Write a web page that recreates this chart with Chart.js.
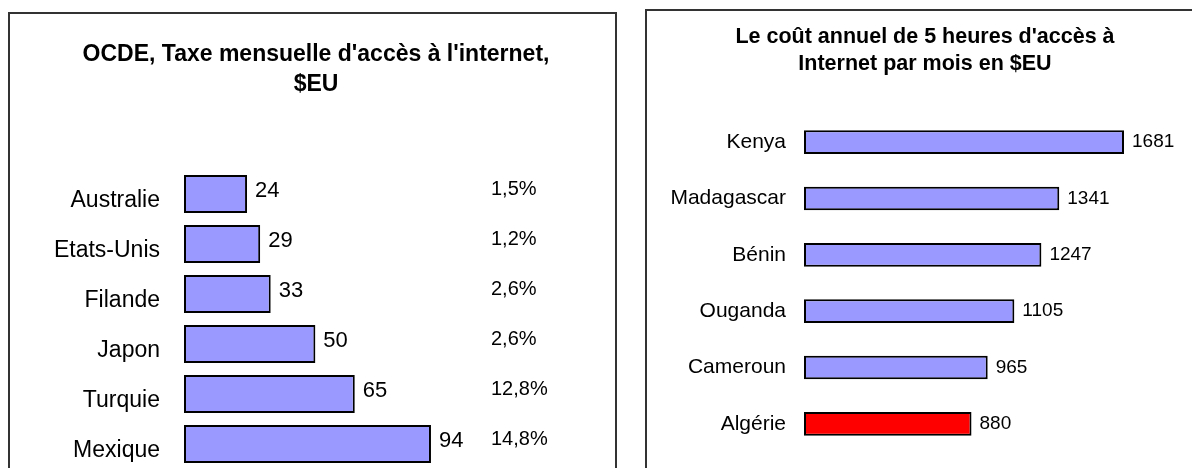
<!DOCTYPE html>
<html>
<head>
<meta charset="utf-8">
<script src="https://cdn.jsdelivr.net/npm/chart.js@4.4.0/dist/chart.umd.min.js"></script>
<style>
	html, body { margin: 0; padding: 0; background: #fff; overflow: hidden; width: 1192px; height: 468px; }
	.panel { position: absolute; border: 2px solid #333; background: #fff; }
	#left { left: 8px; top: 12px; width: 605px; height: 500px; }
	#right { left: 645px; top: 9px; width: 556px; height: 500px; }
	canvas { display: block; }
</style>
</head>
<body>
<div class="panel" id="left"><canvas id="oecdChart" width="605" height="495"></canvas></div>
<div class="panel" id="right"><canvas id="africaChart" width="556" height="490"></canvas></div>
<script>
var oecdCountries = ["Australie", "Etats-Unis", "Filande", "Japon", "Turquie", "Mexique"];
var oecdFees = [24, 29, 33, 50, 65, 94];
var oecdShares = ["1,5%", "1,2%", "2,6%", "2,6%", "12,8%", "14,8%"];

var africaCountries = ["Kenya", "Madagascar", "Bénin", "Ouganda", "Cameroun", "Algérie"];
var africaCosts = [1681, 1341, 1247, 1105, 965, 880];
var highlight = "Algérie";

Chart.defaults.font.family = "'Liberation Sans', Arial, sans-serif";
Chart.defaults.color = "#000";

// writes the value just right of each bar end
var valueLabels = {
	id: "valueLabels",
	afterDatasetsDraw: function(chart, args, opts) {
		var ctx = chart.ctx;
		var meta = chart.getDatasetMeta(0);
		var values = chart.data.datasets[0].data;
		ctx.save();
		ctx.font = opts.size + "px " + Chart.defaults.font.family;
		ctx.fillStyle = "#000";
		ctx.textAlign = "left";
		ctx.textBaseline = "middle";
		for (var i = 0; i < meta.data.length; i++) {
			var bar = meta.data[i];
			ctx.fillText(values[i], bar.x + opts.gap, bar.y + opts.dy);
		}
		ctx.restore();
	}
};

var oecdChart = new Chart(document.getElementById("oecdChart"), {
	type: "bar",
	data: {
		labels: oecdCountries,
		datasets: [{
			data: oecdFees,
			backgroundColor: "#9999ff",
			borderColor: "#000",
			borderWidth: 2,
			borderSkipped: false,
			barPercentage: 0.76,
			categoryPercentage: 1
		}]
	},
	options: {
		indexAxis: "y",
		responsive: false,
		animation: false,
		devicePixelRatio: 1,
		layout: { padding: { top: 0, right: 0, bottom: 40, left: 7 } },
		plugins: {
			legend: { display: false },
			tooltip: { enabled: false },
			title: {
				display: true,
				text: ["OCDE, Taxe mensuelle d'accès à l'internet,", "$EU"],
				font: { size: 23, weight: "bold", lineHeight: 1.304 },
				padding: { top: 26, bottom: 69 }
			},
			valueLabels: { size: 22, gap: 8, dy: -3 }
		},
		scales: {
			x: { display: false, min: 0, max: 110 },
			y: {
				grid: { display: false, drawTicks: false },
				border: { display: false },
				ticks: { font: { size: 23 }, padding: 24, labelOffset: 7 },
				afterFit: function(scale) { scale.width = 167; }
			},
			y2: {
				type: "category",
				labels: oecdShares,
				position: "right",
				offset: true,
				grid: { display: false, drawTicks: false },
				border: { display: false },
				ticks: { font: { size: 20 }, padding: 18, labelOffset: -5 },
				afterFit: function(scale) { scale.width = 142; }
			}
		}
	},
	plugins: [valueLabels]
});

var africaChart = new Chart(document.getElementById("africaChart"), {
	type: "bar",
	data: {
		labels: africaCountries,
		datasets: [{
			data: africaCosts,
			backgroundColor: africaCountries.map(function(c) { return c === highlight ? "#ff0000" : "#9999ff"; }),
			borderColor: "#000",
			borderWidth: 2,
			borderSkipped: false,
			barPercentage: 0.42,
			categoryPercentage: 1
		}]
	},
	options: {
		indexAxis: "y",
		responsive: false,
		animation: false,
		devicePixelRatio: 1,
		layout: { padding: { top: 0, right: 0, bottom: 49, left: 0 } },
		plugins: {
			legend: { display: false },
			tooltip: { enabled: false },
			title: {
				display: true,
				text: ["Le coût annuel de 5 heures d'accès à", "Internet par mois en $EU"],
				font: { size: 21.5, weight: "bold", lineHeight: 1.256 },
				padding: { top: 13, bottom: 36 }
			},
			valueLabels: { size: 19, gap: 8, dy: 0 }
		},
		scales: {
			x: { display: false, min: 0, max: 2096 },
			y: {
				grid: { display: false, drawTicks: false },
				border: { display: false },
				ticks: { font: { size: 21 }, padding: 18 },
				afterFit: function(scale) { scale.width = 157; }
			}
		}
	},
	plugins: [valueLabels]
});
</script>
</body>
</html>
